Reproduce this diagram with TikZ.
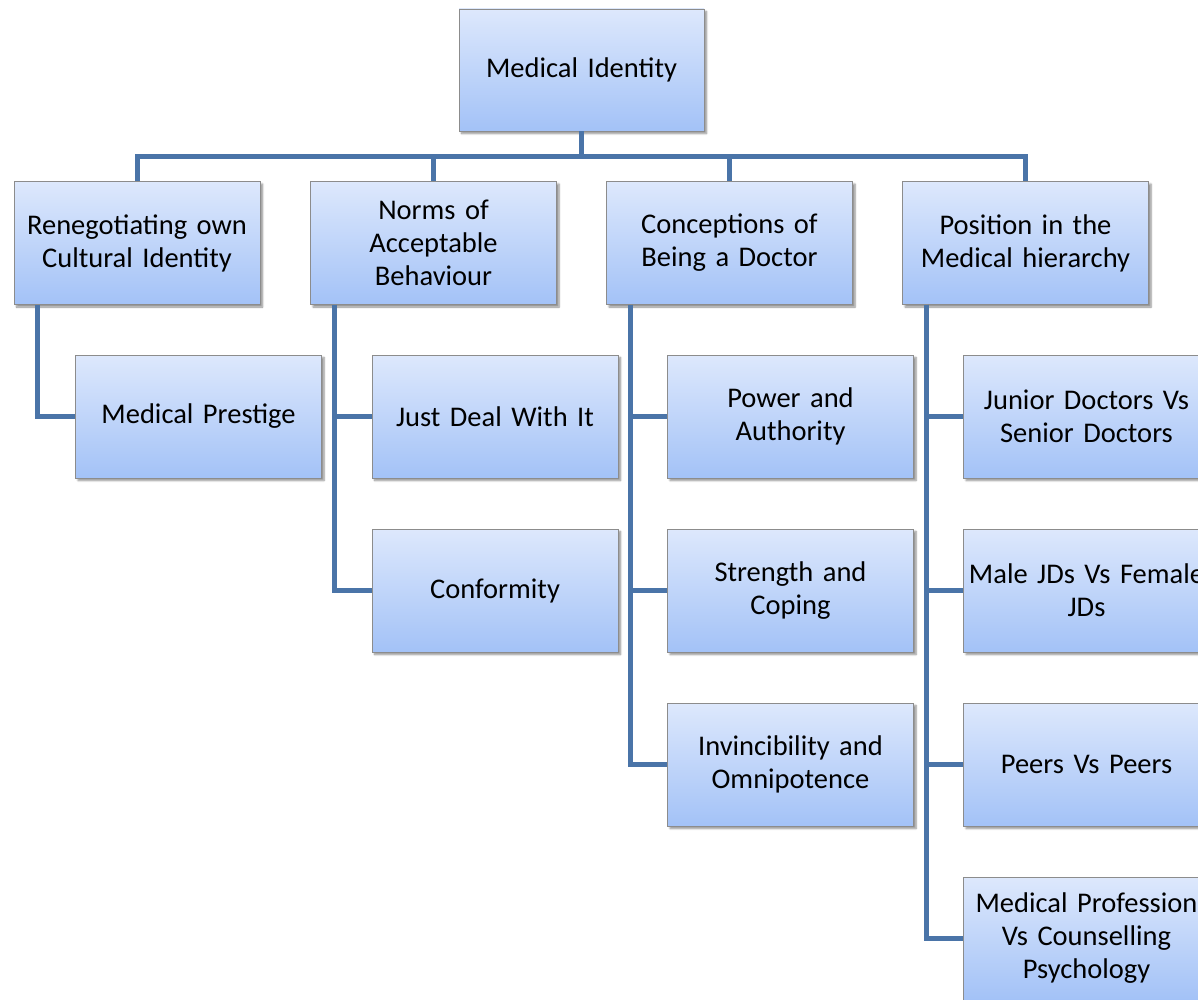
\documentclass[tikz,border=0pt]{standalone}
\usepackage{fontspec}
\setmainfont{Carlito}
\usetikzlibrary{shadows.blur}
\definecolor{linkblue}{RGB}{74,116,168}
\definecolor{boxtop}{RGB}{221,232,252}
\definecolor{boxbottom}{RGB}{163,194,247}
\definecolor{boxedge}{RGB}{140,140,140}
\tikzset{
  topic/.style={rectangle, draw=boxedge, line width=0.8pt,
    top color=boxtop, bottom color=boxbottom,
    minimum width=246pt, minimum height=123pt, inner sep=2pt,
    align=center, text width=260pt,
    font=\fontsize{28.5}{33}\selectfont,
    blur shadow={shadow xshift=2.5pt, shadow yshift=-2.5pt, shadow blur steps=6, shadow opacity=45}},
  link/.style={draw=linkblue, line width=5pt}
}
\begin{document}
\begin{tikzpicture}[x=1pt,y=1pt]
\useasboundingbox (0,0) rectangle (1198,-1000);
\clip (0,0) rectangle (1198,-1000);
% top level
\node[topic, minimum width=245pt, minimum height=122pt, text width=240pt] (root) at (581.5,-70) {Medical Identity};
% themes
\node[topic, text width=240pt] (t1) at (137,-243) {Renegotiating own\\Cultural Identity};
\node[topic, text width=240pt] (t2) at (433.5,-243) {Norms of\\Acceptable\\Behaviour};
\node[topic, text width=240pt] (t3) at (729.5,-243) {Conceptions of\\Being a Doctor};
\node[topic, text width=240pt] (t4) at (1025.5,-243) {Position in the\\Medical hierarchy};
% sub-themes
\node[topic, text width=240pt] (a1) at (198.5,-416.5) {Medical Prestige};
\node[topic, text width=240pt] (b1) at (495,-416.5) {Just Deal With It};
\node[topic, text width=240pt] (b2) at (495,-590.5) {Conformity};
\node[topic, text width=240pt] (c1) at (790.5,-416.5) {Power and\\Authority};
\node[topic, text width=240pt] (c2) at (790.5,-590.5) {Strength and\\Coping};
\node[topic, text width=240pt] (c3) at (790.5,-764.5) {Invincibility and\\Omnipotence};
\node[topic, text width=240pt] (d1) at (1086.5,-416.5) {Junior Doctors Vs\\Senior Doctors};
\node[topic, text width=240pt] (d2) at (1086.5,-590.5) {Male JDs Vs Female\\JDs};
\node[topic, text width=240pt] (d3) at (1086.5,-764.5) {Peers Vs Peers};
\node[topic, text width=240pt] (d4) at (1086.5,-938.5) {Medical Profession\\Vs Counselling\\Psychology};
% connectors from the root
\coordinate (bus) at (0,-157);
\draw[link] (root.south) -- (root.south |- bus);
\draw[link, line cap=rect] (t1.north |- bus) -- (t4.north |- bus);
\foreach \t in {t1,t2,t3,t4} \draw[link] (\t.north |- bus) -- (\t.north);
% connectors from the themes
\draw[link] ([xshift=24pt]t1.south west) |- (a1.west);
\foreach \c in {b1,b2} \draw[link] ([xshift=24pt]t2.south west) |- (\c.west);
\foreach \c in {c1,c2,c3} \draw[link] ([xshift=24pt]t3.south west) |- (\c.west);
\foreach \c in {d1,d2,d3,d4} \draw[link] ([xshift=24pt]t4.south west) |- (\c.west);
\end{tikzpicture}
\end{document}
